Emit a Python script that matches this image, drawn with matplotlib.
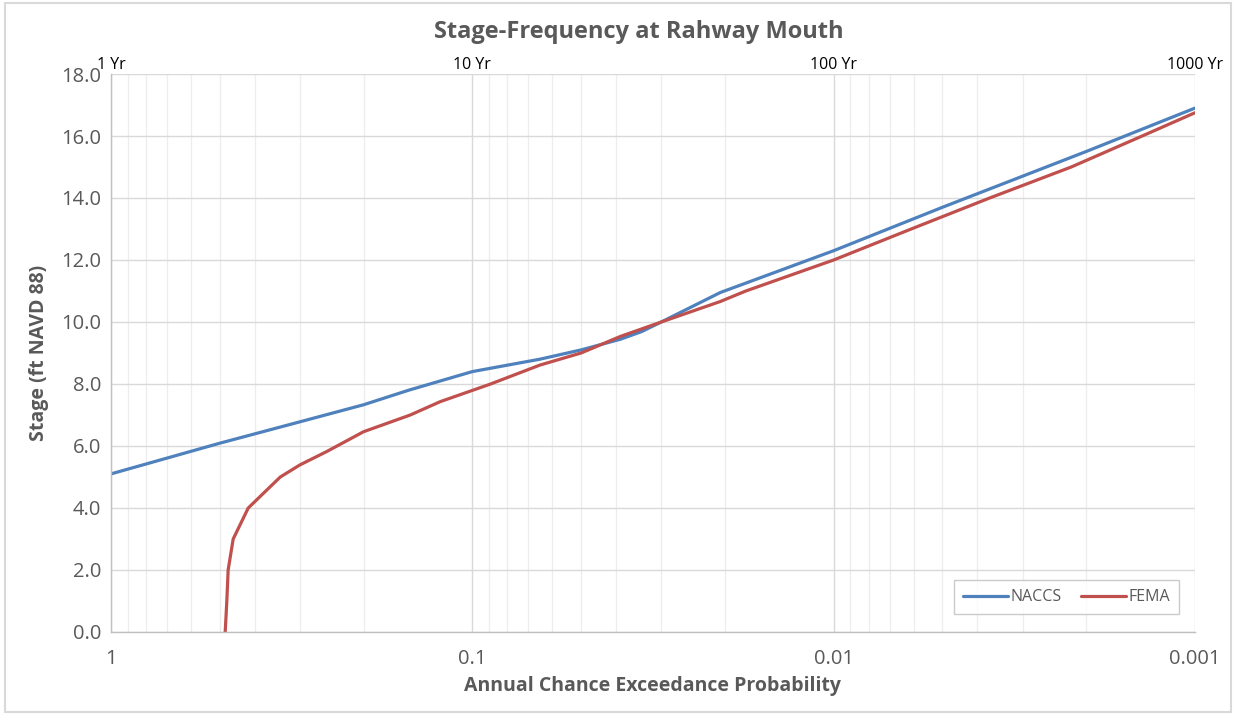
import matplotlib
matplotlib.use("Agg")
import matplotlib.pyplot as plt
from matplotlib.ticker import FixedLocator, NullFormatter
from matplotlib.patches import Rectangle

# Data
naccs_p = [1.0, 0.5, 0.3, 0.2, 0.15, 0.1, 0.065, 0.05, 0.039, 0.034, 0.03, 0.0206, 0.01, 0.005, 0.002, 0.001]
naccs_stage = [5.1, 6.09, 6.78, 7.33, 7.8, 8.40, 8.80, 9.10, 9.44, 9.69, 10.0, 10.95, 12.3, 13.7, 15.5, 16.9]

fema_p = [0.483, 0.478, 0.474, 0.459, 0.417, 0.34, 0.30, 0.253, 0.2, 0.1485, 0.1227, 0.089,
          0.065, 0.050, 0.039, 0.030, 0.0206, 0.0175, 0.010, 0.0061, 0.0037, 0.0022, 0.0014, 0.001]
fema_stage = [0.0, 1.0, 2.0, 3.0, 4.0, 5.0, 5.39, 5.82, 6.46, 7.0, 7.43, 8.0,
              8.61, 9.0, 9.53, 10.0, 10.66, 11.0, 12.0, 13.0, 14.0, 15.0, 16.0, 16.75]

x_ticks = [1, 0.1, 0.01, 0.001]
x_tick_labels = ["1", "0.1", "0.01", "0.001"]
top_labels = ["1 Yr", "10 Yr", "100 Yr", "1000 Yr"]
y_ticks = [0, 2, 4, 6, 8, 10, 12, 14, 16, 18]

title = "Stage-Frequency at Rahway Mouth"
xlabel = "Annual Chance Exceedance Probability"
ylabel = "Stage (ft NAVD 88)"

gray = "#595959"
plt.rcParams['font.family'] = ['Open Sans', 'DejaVu Sans']

fig = plt.figure(figsize=(12.36, 7.15), dpi=100)
fig.patches.append(Rectangle((0.004, 0.004), 0.992, 0.992, transform=fig.transFigure,
                             fill=False, edgecolor="#D9D9D9", linewidth=1.5))
ax = fig.add_axes([0.0898, 0.1161, 0.8770, 0.7804])

ax.set_xscale("log")
ax.set_xlim(1, 0.001)
ax.set_ylim(0, 18)

ax.plot(naccs_p, naccs_stage, color="#4F81BD", lw=2.3, label="NACCS",
        solid_capstyle="round", solid_joinstyle="round")
ax.plot(fema_p, fema_stage, color="#C0504D", lw=2.3, label="FEMA",
        solid_capstyle="round", solid_joinstyle="round")

ax.xaxis.set_major_locator(FixedLocator(x_ticks))
ax.set_xticklabels(x_tick_labels)
minor = [m * 10.0 ** e for e in (-1, -2, -3) for m in range(2, 10)]
ax.xaxis.set_minor_locator(FixedLocator(minor))
ax.xaxis.set_minor_formatter(NullFormatter())
ax.set_yticks(y_ticks)
ax.set_yticklabels([f"{v:.1f}" for v in y_ticks])

ax.grid(True, which="major", axis="both", color="#D9D9D9", lw=1.0)
ax.grid(True, which="minor", axis="x", color="#EDEDED", lw=0.9)
ax.set_axisbelow(True)

for s in ("top", "right"):
    ax.spines[s].set_visible(False)
for s in ("left", "bottom"):
    ax.spines[s].set_color("#BFBFBF")
    ax.spines[s].set_linewidth(1.0)

ax.tick_params(axis="both", which="both", length=0, colors=gray, labelsize=14.5)
ax.tick_params(axis="x", pad=12)
ax.tick_params(axis="y", pad=7)

for xv, lab in zip(x_ticks, top_labels):
    ax.text(xv, 1.002, lab, transform=ax.get_xaxis_transform(), ha="center", va="bottom",
            fontsize=11.5, color="black")

fig.text(0.517, 0.955, title, ha="center", va="center", fontsize=17, fontweight="bold", color=gray)
ax.set_xlabel(xlabel, fontsize=14, fontweight="bold", color=gray, labelpad=5)
ax.set_ylabel(ylabel, fontsize=14, fontweight="bold", color=gray, labelpad=9)

leg = ax.legend(loc="lower right", ncol=2, frameon=True, fancybox=False, fontsize=11.5,
                bbox_to_anchor=(0.993, 0.018), handlelength=2.8, columnspacing=1.2,
                handletextpad=0.2, borderpad=0.55)
leg.get_frame().set_edgecolor("#BFBFBF")
leg.get_frame().set_linewidth(1.0)
for t in leg.get_texts():
    t.set_color(gray)

fig.savefig("out.png", dpi=100)
